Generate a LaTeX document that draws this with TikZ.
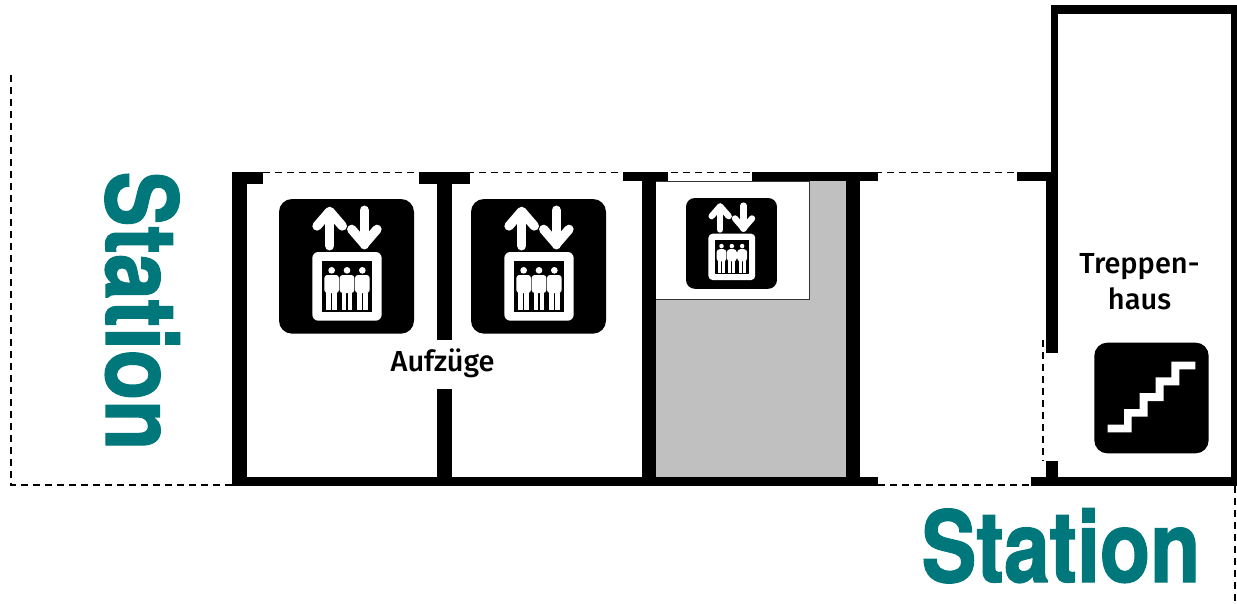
\documentclass[tikz,border=0pt]{standalone}
\usepackage{fontspec}
\setmainfont{Fira Sans}
\newfontfamily\stationfont[FakeStretch=0.83,FakeBold=1.4]{TeX Gyre Heros Bold}
\definecolor{teal1}{HTML}{00777A}
\definecolor{fillgray}{HTML}{C0C0C0}
\tikzset{
  wall/.style={fill=black,draw=none},
  dashline/.style={draw=black,line width=1.7pt,dash pattern=on 6.5pt off 5.5pt},
  stationtext/.style={text=teal1,font=\fontsize{99}{99}\selectfont\stationfont,inner sep=0pt,anchor=base},
  label/.style={font=\fontsize{29}{36}\selectfont\fontspec{Fira Sans Medium},inner sep=0pt,align=center,text=black},
}
\newcommand{\person}[1]{%
  \fill[white] (#1,332) circle (10);
  \fill[white,rounded corners=3] (#1-22,346) rectangle (#1+22,400);
  \fill[white] (#1-16,395) rectangle (#1-2,450);
  \fill[white] (#1+2,395) rectangle (#1+16,450);
}
\newcommand{\elevatoricon}[3]{%
  \begin{scope}[shift={(#1,#2)},scale=#3/3,shift={(-162,-118)}]
    \fill[black,rounded corners=#3*13pt] (162,118) rectangle (567,522);
    \draw[white,line width=#3*9.6pt,line cap=round] (314,158) -- (314,258);
    \draw[white,line width=#3*9.6pt,line cap=round] (418,152) -- (418,255);
    \draw[white,line width=#3*9.3pt,line cap=round,line join=round] (276,199) -- (314,155) -- (352,199);
    \draw[white,line width=#3*9.3pt,line cap=round,line join=round] (380,209) -- (418,253) -- (456,209);
    \fill[white,rounded corners=#3*6pt] (262,277) rectangle (470,483);
    \fill[black] (290,303) rectangle (442,457);
    \person{320}\person{366}\person{412}
  \end{scope}}
\begin{document}
\begin{tikzpicture}[x=1pt,y=-1pt]
\useasboundingbox (0,0) rectangle (1237,603);
% floor fill
\fill[fillgray] (656,181) rectangle (846,477);
\filldraw[fill=white,draw=black!80,line width=1pt] (656,181) -- (809,181) -- (809,299) -- (656,299);
% dashed outlines
\draw[dashline] (11,75) -- (11,485) -- (232,485);
\draw[dashline] (263,172.5) -- (1018,172.5);
\draw[dashline] (878,485) -- (1031,485);
\draw[dashline] (1043,340) -- (1043,461);
\draw[dashline] (1235,486) -- (1235,603);
% walls
\fill[wall] (232,172) rectangle (247,486);
\fill[wall] (232,172) rectangle (263,184);
\fill[wall] (419,172) rectangle (470,184);
\fill[wall] (437,172) rectangle (451.5,340);
\fill[wall] (437,389) rectangle (451.5,486);
\fill[wall] (623,172) rectangle (668,181);
\fill[wall] (642,172) rectangle (656,486);
\fill[wall] (752,172) rectangle (878,181);
\fill[wall] (846,172) rectangle (860,486);
\fill[wall] (232,477) rectangle (878,486);
\fill[wall] (1031,477) rectangle (1237,486);
\fill[wall] (1017,172) rectangle (1051,181);
\fill[wall] (1051,5) rectangle (1058,181);
\fill[wall] (1046,172) rectangle (1058,353);
\fill[wall] (1046,461) rectangle (1058,480);
\fill[wall] (1051,5) rectangle (1237,14);
\fill[wall] (1231,5) rectangle (1237,486);
% icons
\elevatoricon{279}{199}{1}
\elevatoricon{471}{199}{1}
\elevatoricon{686}{198}{0.674}
\begin{scope}[shift={(1010,320)},scale=1/3]
  \fill[black,rounded corners=13pt] (253,68) rectangle (596,400);
  \fill[white] (293,314) -- (342,314) -- (342,267) -- (389,267) -- (389,219) -- (437,219) -- (437,172) -- (484,172) -- (484,125) -- (556,125) -- (556,148) -- (508,148) -- (508,196) -- (461,196) -- (461,243) -- (413,243) -- (413,290) -- (365,290) -- (365,337) -- (293,337) -- cycle;
\end{scope}
% labels
\node[label] (aufzuege) at (442.5,363) {Aufzüge};
\node[label] (treppenhaus) at (1139.5,282) {Treppen-\\haus};
\node[stationtext,rotate=-90] (stationleft) at (106,311) {Station};
\node[stationtext] (stationbottom) at (1061,582) {Station};
\end{tikzpicture}
\end{document}
